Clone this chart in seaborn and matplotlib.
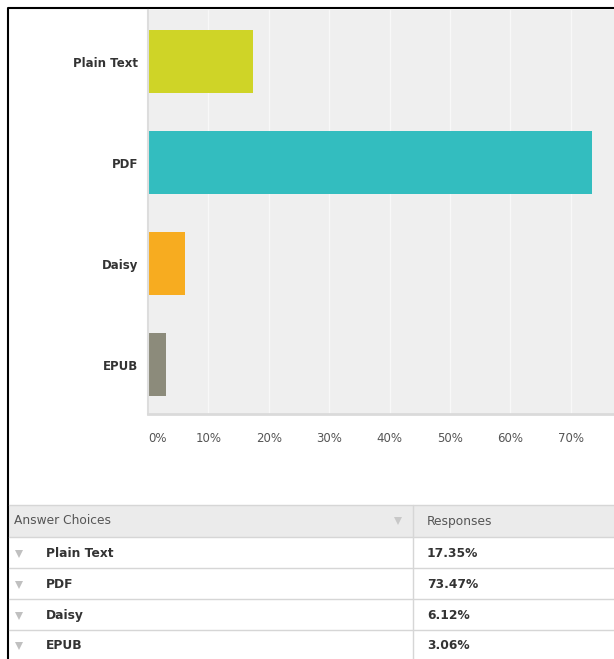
import matplotlib
matplotlib.use("Agg")
import matplotlib.pyplot as plt
import matplotlib.ticker as mticker
import pandas as pd
import seaborn as sns

# data
choices = ["Plain Text", "PDF", "Daisy", "EPUB"]
responses = [17.35, 73.47, 6.12, 3.06]
bar_colors = ["#CFD427", "#33BDBF", "#F7AC20", "#8C8B7B"]
x_ticks = [0, 10, 20, 30, 40, 50, 60, 70]
table_header = ["Answer Choices", "Responses"]

sns.set_theme(style="darkgrid")
plt.rcParams["font.family"] = ["DejaVu Sans"]

W, H = 614, 659
fig = plt.figure(figsize=(W / 100, H / 100), dpi=100)

# overlay in pixel coordinates for frame + table
ov = fig.add_axes([0, 0, 1, 1], zorder=0)
ov.set_xlim(0, W)
ov.set_ylim(H, 0)
ov.axis("off")
ov.patch.set_visible(False)

# bar chart
ax = fig.add_axes([148 / W, 1 - 414 / H, (W - 148) / W, (414 - 10) / H], zorder=1)
df = pd.DataFrame({"choice": choices, "pct": responses})
sns.barplot(data=df, x="pct", y="choice", hue="choice", palette=bar_colors,
            orient="h", width=0.62, legend=False, ax=ax, saturation=1,
            linewidth=0)
ax.set_facecolor("#EFEFEF")
ax.grid(axis="x", color="#F8F8F8", lw=1)
ax.grid(axis="y", visible=False)
ax.set_xlim(0, (W - 148) / 6.04)
ax.set_ylim(3.49, -0.51)
ax.set_xticks(x_ticks)
ax.xaxis.set_major_formatter(mticker.FuncFormatter(lambda v, _: f"{v:.0f}%"))
ax.set_xlabel("")
ax.set_ylabel("")
ax.tick_params(axis="x", length=0, pad=13, labelsize=8.5, labelcolor="#555555")
ax.tick_params(axis="y", length=0, pad=7, labelsize=8.5, labelcolor="#333333")
for lbl in ax.get_yticklabels():
    lbl.set_fontweight("bold")
    lbl.set_verticalalignment("center_baseline")
for lbl in ax.get_xticklabels():
    if lbl.get_text() == "0%":
        lbl.set_horizontalalignment("left")
for side in ["top", "right"]:
    ax.spines[side].set_visible(False)
ax.spines["left"].set_visible(True)
ax.spines["left"].set_color("#DDDDDD")
ax.spines["left"].set_linewidth(1.5)
ax.spines["bottom"].set_visible(True)
ax.spines["bottom"].set_color("#DADADA")
ax.spines["bottom"].set_linewidth(2)

# outer frame (left + top)
ov.plot([8, 8, W], [H, 8, 8], color="black", lw=1.5, solid_capstyle="butt")

# table
row_tops = [505, 537, 568, 599, 630]
ov.add_patch(plt.Rectangle((9, 505), W - 9, 32, color="#EBEBEB", lw=0))
for y in row_tops:
    ov.plot([9, W], [y, y], color="#D6D6D6", lw=1)
ov.plot([413, 413], [505, H], color="#D6D6D6", lw=1)
ov.text(14, 521, table_header[0], fontsize=8.8, color="#555555", va="center")
ov.text(427, 521, table_header[1], fontsize=8.8, color="#555555", va="center")
ov.plot(398, 521, marker="v", ms=6, color="#C8C8C8", mew=0)
for i, (c, r) in enumerate(zip(choices, responses)):
    yc = (row_tops[i + 1] + (row_tops[i + 2] if i + 2 < len(row_tops) else H)) / 2 + 1
    ov.plot(19, yc, marker="v", ms=6, color="#C0C0C0", mew=0)
    ov.text(46, yc, c, fontsize=8.8, fontweight="bold", color="#333333", va="center")
    ov.text(427, yc, f"{r:.2f}%", fontsize=8.8, fontweight="bold", color="#333333", va="center")

fig.savefig("out.png", dpi=100)
